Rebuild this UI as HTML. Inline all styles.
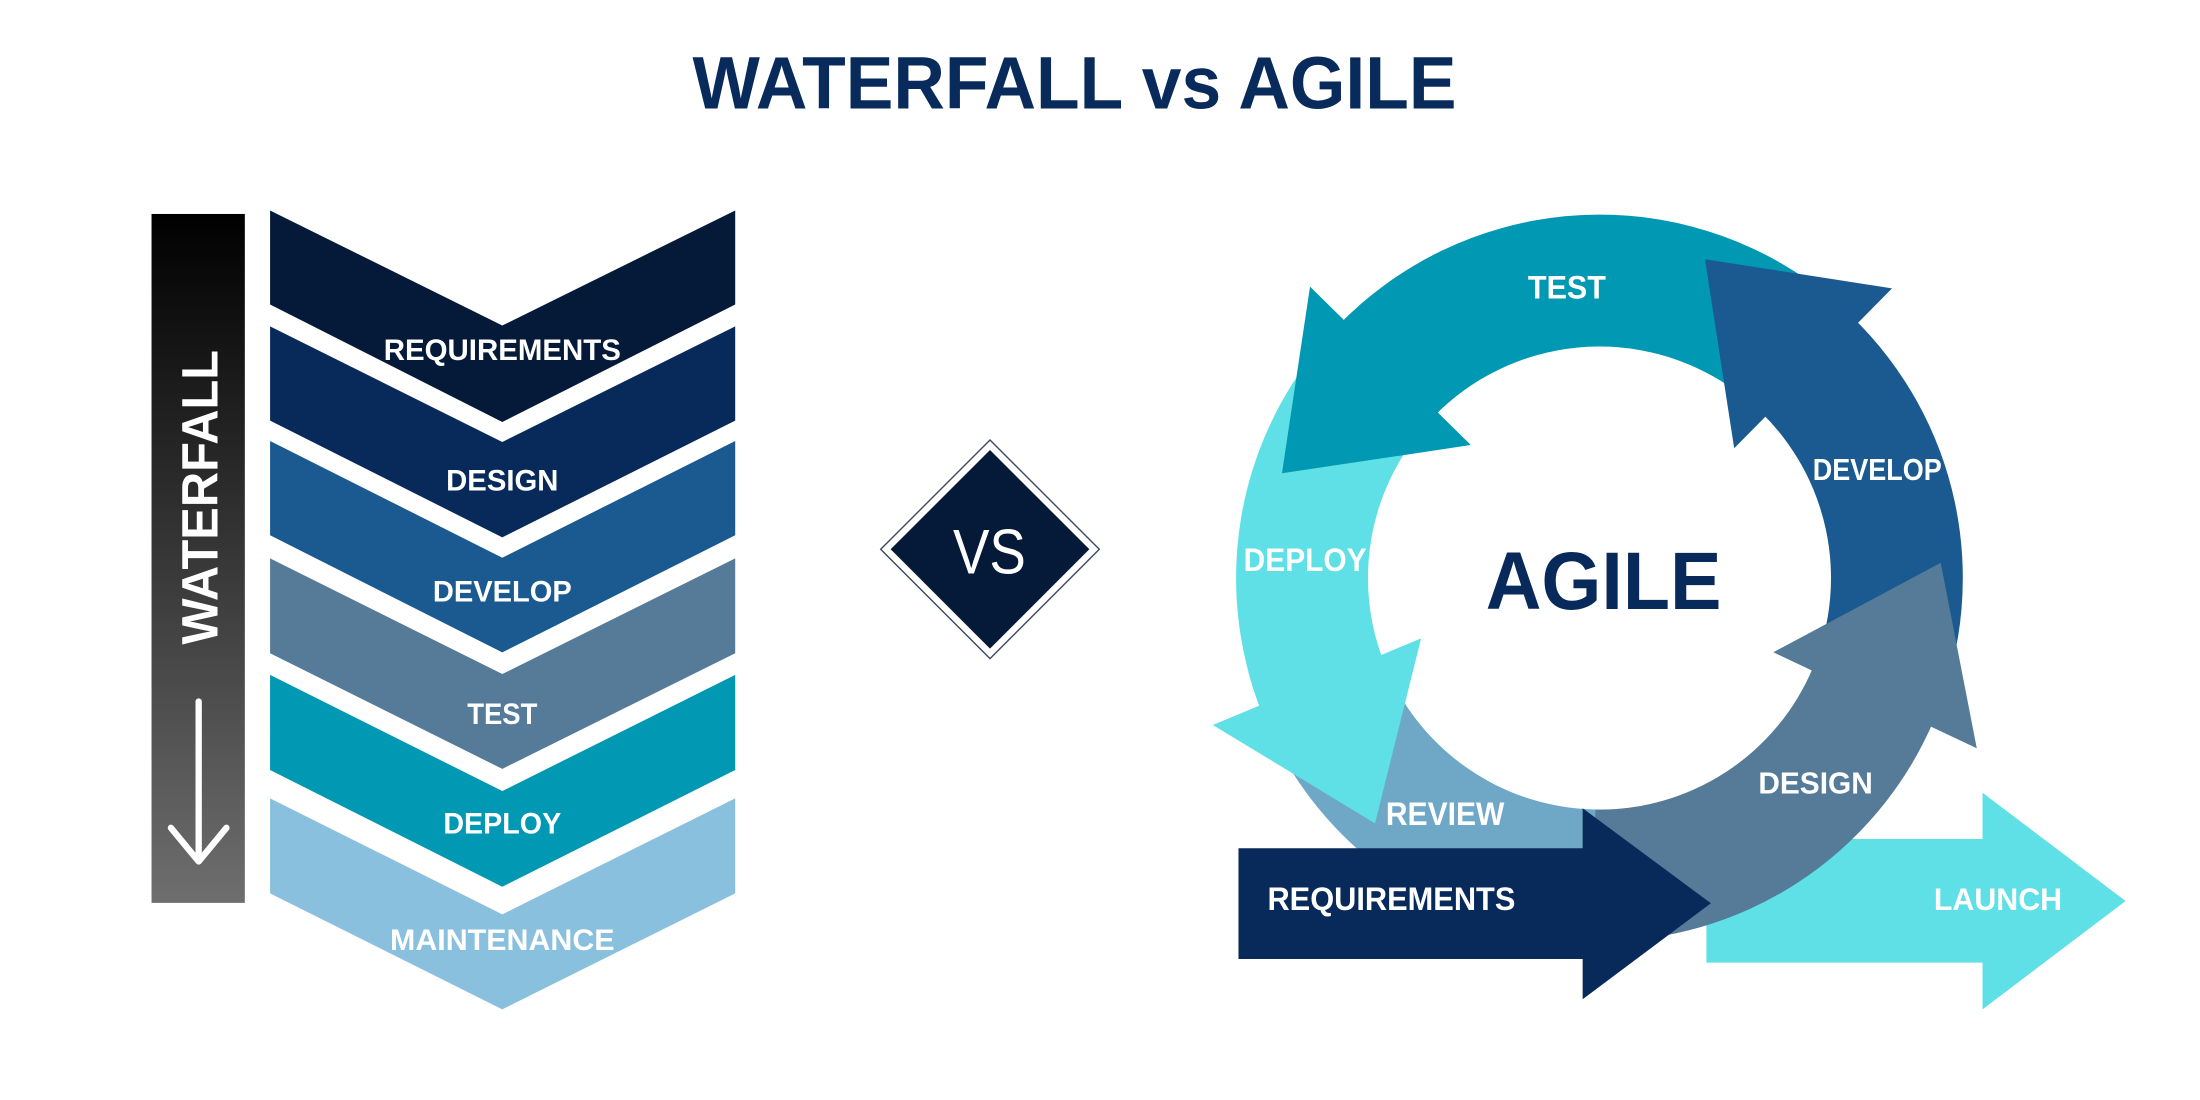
<!DOCTYPE html>
<html>
<head>
<meta charset="utf-8">
<style>
  html,body{margin:0;padding:0;background:#ffffff;}
  svg{display:block;}
  text{font-family:"Liberation Sans", "DejaVu Sans", sans-serif;}
</style>
</head>
<body>
<svg xmlns="http://www.w3.org/2000/svg" width="2200" height="1100" viewBox="0 0 1568 784">
  <defs>
    <linearGradient id="wfg" x1="0" y1="0" x2="0" y2="1">
      <stop offset="0" stop-color="#000000"/>
      <stop offset="1" stop-color="#6e6e6e"/>
    </linearGradient>
  </defs>
  <rect x="0" y="0" width="1568" height="784" fill="#ffffff"/>

  <!-- Title -->
  <text x="765.8" y="77.2" font-size="53" font-weight="bold" fill="#082b5c" text-anchor="middle" textLength="544.5" lengthAdjust="spacingAndGlyphs">WATERFALL vs AGILE</text>

  <!-- Waterfall bar -->
  <rect x="108" y="152.5" width="66.5" height="491" fill="url(#wfg)"/>
  <text transform="translate(155,354.4) rotate(-90)" x="0" y="0" font-size="36.5" font-weight="bold" fill="#ffffff" text-anchor="middle" textLength="210" lengthAdjust="spacingAndGlyphs">WATERFALL</text>
  <line x1="141.6" y1="500" x2="141.6" y2="613" stroke="#ffffff" stroke-width="4.5" stroke-linecap="round"/>
  <polyline points="121.8,590 141.6,614 161.4,590" fill="none" stroke="#ffffff" stroke-width="4.5" stroke-linecap="round" stroke-linejoin="round"/>

  <!-- Chevrons -->
  <polygon points="192.5,150 358,232 524,150 524,217 358,300.8 192.5,217" fill="#041a38"/>
  <polygon points="192.5,232.6 358,315 524,232.6 524,299.8 358,383 192.5,299.8" fill="#082a5a"/>
  <polygon points="192.5,314.3 358,397.5 524,314.3 524,381.5 358,465 192.5,381.5" fill="#1a5a90"/>
  <polygon points="192.5,398 358,480.4 524,398 524,465.6 358,548 192.5,465.6" fill="#557b98"/>
  <polygon points="192.5,481 358,563.8 524,481 524,548.8 358,632 192.5,548.8" fill="#0098b2"/>
  <polygon points="192.5,569 358,651.7 524,569 524,636.7 358,719.4 192.5,636.7" fill="#88c0dd"/>

  <g font-size="21" font-weight="bold" fill="#ffffff" text-anchor="middle">
    <text x="358" y="256.6" textLength="169" lengthAdjust="spacingAndGlyphs">REQUIREMENTS</text>
    <text x="358" y="349.7" textLength="80" lengthAdjust="spacingAndGlyphs">DESIGN</text>
    <text x="358" y="428.8" textLength="99" lengthAdjust="spacingAndGlyphs">DEVELOP</text>
    <text x="358" y="516" textLength="50" lengthAdjust="spacingAndGlyphs">TEST</text>
    <text x="358" y="594" textLength="84" lengthAdjust="spacingAndGlyphs">DEPLOY</text>
    <text x="358" y="677" textLength="160" lengthAdjust="spacingAndGlyphs">MAINTENANCE</text>
  </g>

  <!-- VS diamond -->
  <polygon points="705.6,313.6 783.5,391.5 705.6,469.4 627.7,391.5" fill="#ffffff" stroke="#3b4a60" stroke-width="1"/>
  <polygon points="705.6,320.7 776.4,391.5 705.6,462.3 634.8,391.5" fill="#041a38"/>
  <text x="705.2" y="408.6" font-size="45" fill="#ffffff" text-anchor="middle" textLength="52" lengthAdjust="spacingAndGlyphs">VS</text>

  <!-- Agile: launch arrow (bottom layer) -->
  <polygon points="1216.2,598 1413,598 1413,565 1515,642.2 1413,719.4 1413,686.1 1216.2,686.1" fill="#5ee0e6"/>

  <!-- Arc bodies -->
  <path d="M1149.0,670.8 A259,259 0 0 1 889.8,479.0 L980.6,454.7 A165,165 0 0 0 1145.8,576.9 Z" fill="#6fa8c7"/>
  <path d="M1378.4,513.2 A259,259 0 0 1 1135.5,671.0 L1137.1,577.0 A165,165 0 0 0 1291.9,476.5 Z" fill="#557b98"/>
  <path d="M1319.9,225.7 A259,259 0 0 1 1380.1,509.0 L1293.0,473.8 A165,165 0 0 0 1254.6,293.3 Z" fill="#1a5a90"/>
  <path d="M953.7,232.1 A259,259 0 0 1 1288.6,199.8 L1234.6,276.8 A165,165 0 0 0 1021.3,297.4 Z" fill="#0098b2"/>
  <path d="M899.0,506.9 A259,259 0 0 1 941.6,245.5 L1013.6,305.9 A165,165 0 0 0 986.5,472.5 Z" fill="#5ee0e6"/>

  <!-- Arrow heads -->
  <polygon points="933.7,204.3 913.7,337.3 1048.3,317.2" fill="#0098b2"/>
  <polygon points="1215.2,184.8 1348.5,205.5 1236,319.5" fill="#1a5a90"/>
  <polygon points="1383.2,401.1 1408.9,533.3 1263.9,464.9" fill="#557b98"/>
  <polygon points="864.4,516.7 980,586.8 1012.9,455" fill="#5ee0e6"/>

  <!-- Requirements arrow (top) -->
  <polygon points="882.7,604.6 1128,604.6 1128,576.1 1219.4,643.8 1128,712.2 1128,683.5 882.7,683.5" fill="#082a5a"/>

  <!-- Agile labels -->
  <g font-weight="bold" fill="#ffffff" text-anchor="middle">
    <text x="1116.8" y="212.6" font-size="23" textLength="55.6" lengthAdjust="spacingAndGlyphs">TEST</text>
    <text x="1338" y="342" font-size="22" textLength="92" lengthAdjust="spacingAndGlyphs">DEVELOP</text>
    <text x="930.2" y="406.8" font-size="23" textLength="87.6" lengthAdjust="spacingAndGlyphs">DEPLOY</text>
    <text x="1294" y="565.4" font-size="21.5" textLength="81.6" lengthAdjust="spacingAndGlyphs">DESIGN</text>
    <text x="1030" y="588" font-size="23" textLength="84.5" lengthAdjust="spacingAndGlyphs">REVIEW</text>
    <text x="991.7" y="648.6" font-size="23" textLength="176.7" lengthAdjust="spacingAndGlyphs">REQUIREMENTS</text>
    <text x="1424" y="648.6" font-size="22.5" textLength="91.4" lengthAdjust="spacingAndGlyphs">LAUNCH</text>
  </g>
  <text x="1142.9" y="434" font-size="58" font-weight="bold" fill="#082a5a" text-anchor="middle" textLength="168" lengthAdjust="spacingAndGlyphs">AGILE</text>
</svg>
</body>
</html>
